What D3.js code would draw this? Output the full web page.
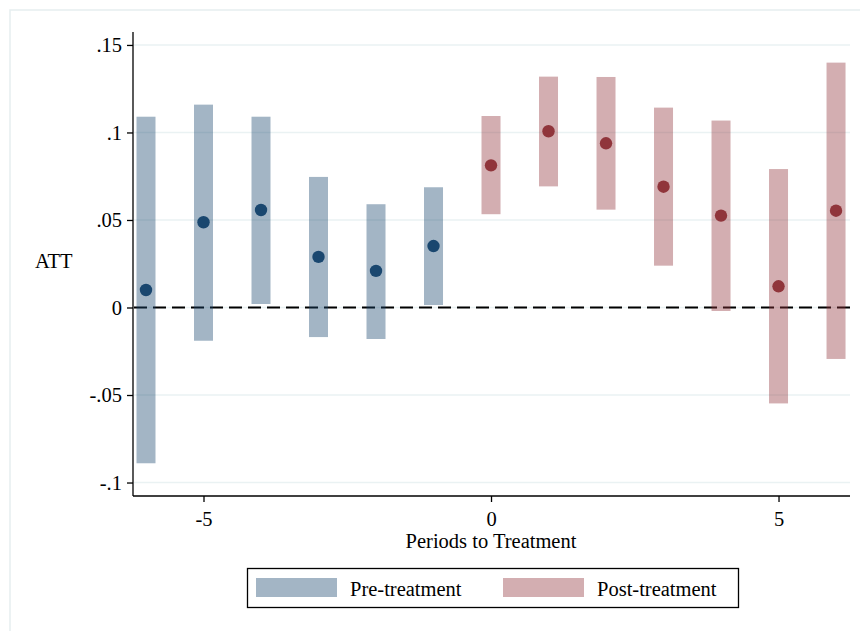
<!DOCTYPE html>
<html>
<head>
<meta charset="utf-8">
<script src="https://cdn.jsdelivr.net/npm/d3@7"></script>
<style>
  body { margin: 0; background: #fff; }
  text { font-family: "Liberation Serif", "DejaVu Serif", serif; fill: #000; }
</style>
</head>
<body>
<div id="chart"></div>
<script>
// Event-study estimates
const periods = [-6, -5, -4, -3, -2, -1, 0, 1, 2, 3, 4, 5, 6];
const att     = [0.010, 0.0487, 0.0557, 0.0289, 0.0209, 0.0351, 0.0812, 0.1007, 0.0938, 0.069, 0.0525, 0.0121, 0.0553];
const ciLow   = [-0.089, -0.019, 0.002, -0.0169, -0.018, 0.0014, 0.0533, 0.0692, 0.0559, 0.0239, -0.002, -0.0548, -0.0294];
const ciHigh  = [0.109, 0.1159, 0.109, 0.0746, 0.059, 0.0687, 0.1094, 0.1319, 0.1317, 0.1142, 0.1068, 0.0791, 0.1399];
const yTicks  = [0.15, 0.1, 0.05, 0, -0.05, -0.1];
const yTickLabels = ['.15', '.1', '.05', '0', '-.05', '-.1'];
const xTicks  = [-5, 0, 5];
const legendLabels = ['Pre-treatment', 'Post-treatment'];

const width = 860, height = 631;
const navy = '#1a476f', maroon = '#90353b';
const fontSize = '20.5px';

const svg = d3.select('#chart').append('svg')
  .attr('width', width)
  .attr('height', height);

// outer graph region frame (runs off the right and bottom edges)
svg.append('rect')
  .attr('x', 10).attr('y', 10)
  .attr('width', 870).attr('height', 640)
  .attr('fill', 'none')
  .attr('stroke', '#e6eef0')
  .attr('stroke-width', 1.5);

const x = d3.scaleLinear().domain([-6.226, 6.243]).range([133, 850]);
const y = d3.scaleLinear().domain([-0.1077, 0.1574]).range([496, 32]);

// gridlines
svg.append('g')
  .selectAll('line')
  .data(yTicks)
  .enter()
  .append('line')
  .attr('x1', 134).attr('x2', 850)
  .attr('y1', d => y(d)).attr('y2', d => y(d))
  .attr('stroke', '#eaf2f3')
  .attr('stroke-width', 1.6);

// zero reference line
svg.append('line')
  .attr('x1', 134).attr('x2', 850)
  .attr('y1', y(0)).attr('y2', y(0))
  .attr('stroke', '#000')
  .attr('stroke-width', 1.8)
  .attr('stroke-dasharray', '13,6');

// confidence interval bars
const barW = 19;
svg.append('g')
  .selectAll('rect')
  .data(periods)
  .enter()
  .append('rect')
  .attr('x', d => x(d) - barW / 2)
  .attr('y', (d, i) => y(ciHigh[i]))
  .attr('width', barW)
  .attr('height', (d, i) => y(ciLow[i]) - y(ciHigh[i]))
  .attr('fill', d => d < 0 ? navy : maroon)
  .attr('fill-opacity', 0.4);

// point estimates
svg.append('g')
  .selectAll('circle')
  .data(periods)
  .enter()
  .append('circle')
  .attr('cx', d => x(d))
  .attr('cy', (d, i) => y(att[i]))
  .attr('r', 6.2)
  .attr('fill', d => d < 0 ? navy : maroon);

// y axis
const yAxis = d3.axisLeft(y)
  .tickValues(yTicks)
  .tickFormat((d, i) => yTickLabels[i])
  .tickSize(6)
  .tickPadding(5);
const gy = svg.append('g')
  .attr('transform', 'translate(133,0)')
  .call(yAxis);
gy.select('.domain').attr('d', `M0,${y.range()[1]}V${y.range()[0]}`).attr('stroke', '#000').attr('stroke-width', 1.3);
gy.selectAll('.tick line').attr('stroke', '#000').attr('stroke-width', 1.3);
gy.selectAll('text').style('font-size', fontSize).style('font-family', '"Liberation Serif", serif');

// x axis
const xAxis = d3.axisBottom(x)
  .tickValues(xTicks)
  .tickFormat(d => String(d))
  .tickSize(6)
  .tickPadding(9);
const gx = svg.append('g')
  .attr('transform', 'translate(0,496)')
  .call(xAxis);
gx.select('.domain').attr('d', `M${x.range()[0]},0H${x.range()[1]}`).attr('stroke', '#000').attr('stroke-width', 1.3);
gx.selectAll('.tick line').attr('stroke', '#000').attr('stroke-width', 1.3);
gx.selectAll('text').style('font-size', fontSize).style('font-family', '"Liberation Serif", serif');

// axis titles
svg.append('text')
  .attr('x', x(0)).attr('y', 548)
  .attr('text-anchor', 'middle')
  .style('font-size', fontSize)
  .text('Periods to Treatment');

svg.append('text')
  .attr('x', 35).attr('y', 268)
  .style('font-size', fontSize)
  .text('ATT');

// legend
const legend = svg.append('g');
legend.append('rect')
  .attr('x', 247.5).attr('y', 568.5)
  .attr('width', 491).attr('height', 39)
  .attr('fill', '#fff')
  .attr('stroke', '#000')
  .attr('stroke-width', 1.3);

const legendX = [256, 503];
const legendColors = [navy, maroon];
legendLabels.forEach((label, i) => {
  legend.append('rect')
    .attr('x', legendX[i]).attr('y', 578)
    .attr('width', 81).attr('height', 19)
    .attr('fill', legendColors[i])
    .attr('fill-opacity', 0.4);
  legend.append('text')
    .attr('x', legendX[i] + 94).attr('y', 596)
    .style('font-size', fontSize)
    .text(label);
});
</script>
</body>
</html>
